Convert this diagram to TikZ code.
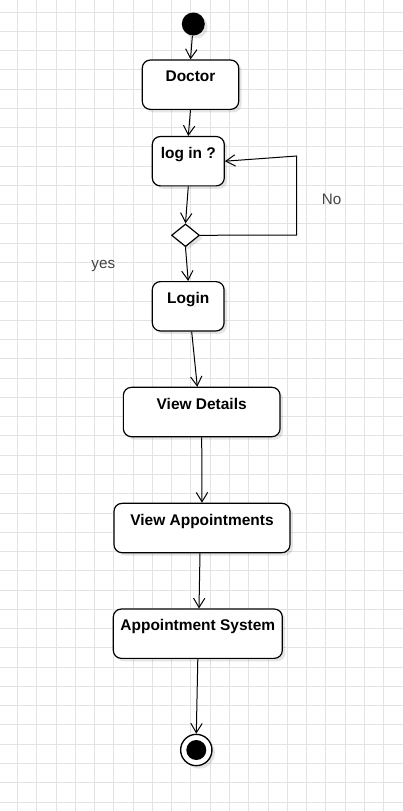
\documentclass[tikz,border=0pt]{standalone}
\usepackage{fontspec}
\setmainfont{Liberation Sans}
\usetikzlibrary{arrows.meta,shapes.geometric,shadows}
\definecolor{gridgray}{HTML}{E3E3E3}
\definecolor{lblgray}{HTML}{444444}
\tikzset{
	gridline/.style={line width=0.75pt, color=gridgray},
	shade/.style={drop shadow={shadow xshift=2.2pt, shadow yshift=-2.2pt, fill=black, opacity=0.1}},
	act/.style={draw, line width=0.9pt, rounded corners=6pt, fill=white, shade, inner sep=0pt,
		minimum height=37pt, font=\bfseries\fontsize{11.6pt}{13pt}\selectfont,
		text height=8.3pt, text depth=12.75pt},
	choice/.style={diamond, draw, line width=0.9pt, fill=white, shade, inner sep=0pt,
		minimum width=21pt, minimum height=17pt},
	flow/.style={line width=0.75pt, -{Straight Barb[length=7pt, width=8.5pt, line width=0.75pt]}},
	lbl/.style={inner sep=0pt, color=lblgray, font=\fontsize{11.4pt}{13pt}\selectfont}
}

\begin{document}
\begin{tikzpicture}[x=0.75pt, y=-0.75pt]
			%%%%% START %%%%%
			
			\useasboundingbox[fill=white] (0, 0) rectangle (403, 811);
			
			\foreach \i in {0,...,19}
				\draw[gridline] ({17.5+19.27*\i}, 0) -- ({17.5+19.27*\i}, 811);
			\foreach \i in {0,...,41}
				\draw[gridline] (0, {12+19.27*\i}) -- (403, {12+19.27*\i});
			
			\node[circle, fill=black, shade, minimum size=17.25pt, inner sep=0pt] (start) at (193.3, 24) {};
			
			\node[act, minimum width=72.3pt] (doctor) at (190.5, 84.7) {Doctor};
			\node[act, minimum width=54pt] (asklogin) at (188.3, 161.2) {log in ?};
			\node[choice] (decide) at (185.5, 235.3) {};
			\node[act, minimum width=53.8pt] (login) at (188.2, 306.3) {Login};
			\node[act, minimum width=117.5pt] (details) at (201.7, 412) {View Details};
			\node[act, minimum width=132pt] (appts) at (202, 528) {View Appointments};
			\node[act, minimum width=126.75pt] (system) at (197.8, 633.7) {Appointment System};
			
			\node[circle, draw, line width=1pt, fill=white, shade, minimum size=23.5pt, inner sep=0pt] (finish) at (196.3, 750) {};
			\fill[black] (finish.center) circle (7.5pt);
			
			\node[lbl] (no) at (331.7, 199) {No};
			\node[lbl] (yes) at (103.3, 265.7) {yes};
			
			\coordinate (noB) at (296.7, 235);
			\coordinate (noT) at (296.7, 156);
			
			\draw[flow] (start) -- (doctor.north);
			\draw[flow] (doctor.south) -- (asklogin.north);
			\draw[flow] (asklogin.south) -- (decide.north);
			\draw[flow] (decide.east) -- (noB) -- (noT) -- (asklogin.east);
			\draw[flow] (decide.south) -- (login.north);
			\draw[flow] ([xshift=2.6pt]login.south) -- ([xshift=-3.3pt]details.north);
			\draw[flow] (details.south) -- (appts.north);
			\draw[flow] ([xshift=-1.5pt]appts.south) -- ([xshift=0.9pt]system.north);
			\draw[flow] (system.south) -- (finish.north);
			
			%%%%% END %%%%%
		\end{tikzpicture}
\end{document}
